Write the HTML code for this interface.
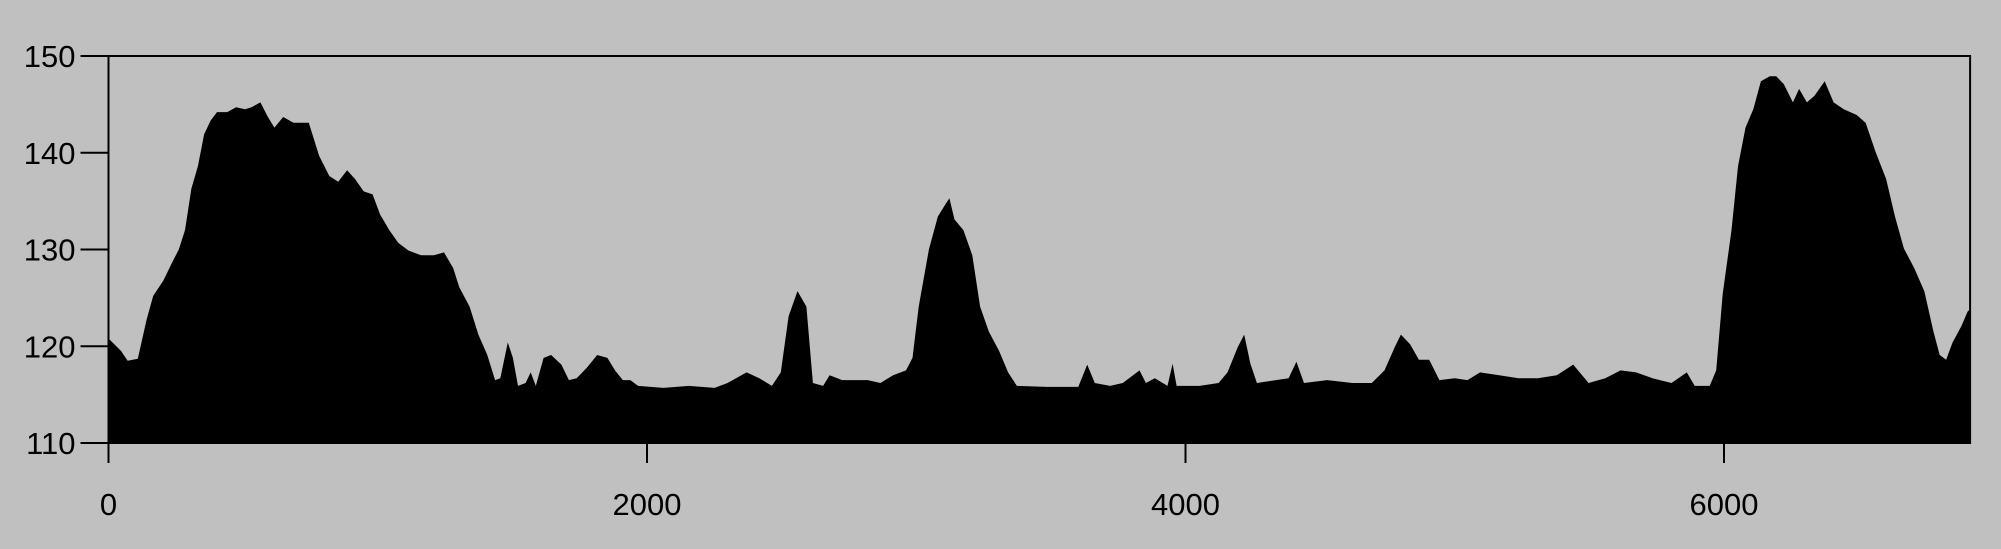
<!DOCTYPE html>
<html><head><meta charset="utf-8"><style>
html,body{margin:0;padding:0;background:#c0c0c0;}
svg{display:block;}
text{font-family:"Liberation Sans",sans-serif;font-size:31px;fill:#000;}
</style></head><body>
<svg id="chart" width="2001" height="549" viewBox="0 0 2001 549" xmlns="http://www.w3.org/2000/svg">
<rect width="2001" height="549" fill="#c0c0c0"/>
<g id="plot"></g>
</svg>
<script>
const xs=[0,47,71,109,142,166,204,237,261,284,308,332,355,379,403,441,474,507,531,564,592,616,649,687,725,744,782,820,853,886,915,948,981,1009,1043,1076,1114,1161,1208,1246,1280,1303,1341,1374,1407,1436,1455,1483,1502,1521,1549,1568,1587,1616,1644,1682,1710,1739,1777,1815,1853,1881,1910,1938,1967,2061,2156,2251,2299,2370,2417,2464,2497,2526,2559,2592,2616,2654,2678,2725,2772,2820,2867,2914,2962,2986,3009,3047,3080,3109,3123,3142,3175,3208,3237,3270,3308,3341,3374,3483,3602,3635,3663,3720,3767,3829,3853,3886,3933,3952,3967,4052,4123,4156,4194,4218,4241,4265,4336,4383,4412,4440,4526,4620,4692,4739,4777,4800,4834,4867,4905,4943,5000,5047,5094,5165,5237,5308,5379,5440,5497,5559,5616,5673,5734,5805,5862,5891,5947,5971,5995,6028,6052,6080,6109,6137,6170,6194,6222,6256,6279,6308,6336,6374,6407,6445,6493,6526,6564,6602,6635,6668,6706,6744,6778,6801,6825,6849,6882,6905,6914];
const ys=[120.8,119.5,118.5,118.7,122.8,125.2,126.8,128.7,130,132,136.3,138.6,141.9,143.3,144.2,144.2,144.7,144.5,144.7,145.2,143.7,142.6,143.7,143.1,143.1,143.1,139.7,137.6,137,138.2,137.3,136,135.7,133.6,132,130.7,129.9,129.4,129.4,129.7,128.1,126.1,124.1,121.2,119.1,116.5,116.7,120.4,118.8,115.9,116.2,117.3,115.9,118.8,119.1,118.1,116.5,116.7,117.8,119.1,118.8,117.5,116.5,116.5,115.9,115.7,115.9,115.7,116.2,117.3,116.7,115.9,117.3,123.1,125.7,124.1,116.2,115.9,117,116.5,116.5,116.5,116.2,117,117.5,118.8,124.1,130,133.4,134.7,135.3,133.1,132,129.4,124.1,121.5,119.5,117.3,115.9,115.8,115.8,118.1,116.2,115.9,116.2,117.5,116.2,116.7,115.9,118.2,115.9,115.9,116.2,117.3,119.9,121.2,118.2,116.2,116.5,116.7,118.4,116.2,116.5,116.2,116.2,117.5,119.9,121.2,120.2,118.6,118.6,116.5,116.7,116.5,117.3,117,116.7,116.7,117,118.1,116.2,116.7,117.5,117.3,116.7,116.2,117.3,115.9,115.9,117.5,125.4,132,138.6,142.6,144.5,147.4,147.9,147.9,147.1,145.2,146.6,145.2,145.9,147.4,145.2,144.5,143.9,143.1,140,137.3,133.4,130.1,128.1,125.7,121.5,119.1,118.6,120.4,122.1,123.6,123.8];
const xTicks=[0,2000,4000,6000];
const yTicks=[110,120,130,140,150];
const X0=108.5,PXU=(1724-108.5)/6000,XMAX=6914;
const Y0=443,PYU=(443-56)/40;
const sx=v=>X0+v*PXU, sy=v=>Y0-(v-110)*PYU;
const NS='http://www.w3.org/2000/svg',g=document.getElementById('plot');
function mk(t,a){const e=document.createElementNS(NS,t);for(const k in a)e.setAttribute(k,a[k]);g.appendChild(e);return e;}
let d='M'+sx(xs[0])+','+sy(110);
xs.forEach((x,i)=>{d+=' L'+sx(x).toFixed(1)+','+sy(ys[i]).toFixed(1);});
d+=' L'+sx(xs[xs.length-1])+','+sy(110)+' Z';
const area=mk('path',{d:d,fill:'#000'});


const frame=mk('rect',{x:X0,y:sy(150),width:sx(XMAX)-X0,height:sy(110)-sy(150),fill:'none',stroke:'#000','stroke-width':2});


yTicks.forEach(v=>{
 const t=mk('line',{x1:X0-28,x2:X0,y1:sy(v),y2:sy(v),stroke:'#000','stroke-width':2});
 
 
 const l=mk('text',{x:X0-33,y:sy(v)+11,'text-anchor':'end'});l.textContent=v;
 
 
});
xTicks.forEach(v=>{
 const t=mk('line',{x1:sx(v),x2:sx(v),y1:Y0,y2:Y0+20,stroke:'#000','stroke-width':2});
 
 
 const l=mk('text',{x:sx(v),y:515,'text-anchor':'middle'});l.textContent=v;
 
 
});
</script>
</body></html>
